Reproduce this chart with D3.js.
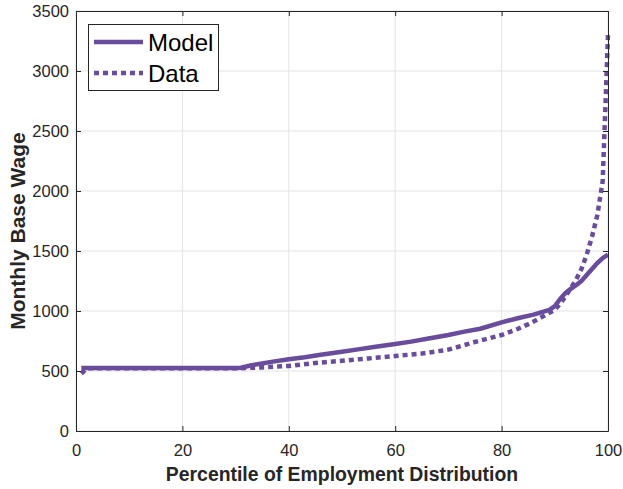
<!DOCTYPE html>
<html>
<head>
<meta charset="utf-8">
<script src="https://cdn.jsdelivr.net/npm/d3@7"></script>
<style>
  body { margin: 0; background: #fff; }
  svg { font-family: "Liberation Sans", Arial, sans-serif; }
</style>
</head>
<body>
<div id="chart"></div>
<script>
// Model curve (percentile, wage)
const modelPct = [1, 5, 10, 20, 30, 31, 33, 35, 37, 40, 43, 46, 50, 53, 56, 60, 63, 66, 70, 73, 76, 80, 83, 86, 89, 90, 91, 92, 93, 94, 95, 96, 97, 98, 99, 100];
const modelWage = [525, 525, 525, 525, 525, 527, 548, 563, 578, 598, 615, 635, 660, 680, 700, 725, 745, 768, 800, 828, 852, 905, 940, 970, 1010, 1040, 1100, 1150, 1185, 1215, 1250, 1300, 1350, 1400, 1440, 1470];

// Data curve (percentile, wage)
const dataPct = [1, 2, 10, 20, 30, 35, 40, 45, 50, 55, 60, 65, 70, 75, 80, 83, 85, 87, 89, 90, 91, 92, 93, 94, 95, 96, 97, 98, 99, 100];
const dataWage = [478, 522, 522, 522, 522, 530, 542, 566, 585, 605, 625, 645, 678, 742, 800, 850, 890, 935, 985, 1010, 1060, 1120, 1190, 1260, 1350, 1470, 1620, 1800, 2080, 3300];

const xTicks = [0, 20, 40, 60, 80, 100];
const yTicks = [0, 500, 1000, 1500, 2000, 2500, 3000, 3500];

const seriesNames = ['Model', 'Data'];
const purple = '#6a4c9c';
const axisColor = '#262626';
const dash = '5,4';

const width = 623, height = 489;
const margin = { left: 76, right: 15, top: 11, bottom: 58 };

const svg = d3.select('#chart').append('svg')
    .attr('width', width)
    .attr('height', height);

const x = d3.scaleLinear().domain([0, 100]).range([margin.left, width - margin.right]);
const y = d3.scaleLinear().domain([0, 3500]).range([height - margin.bottom, margin.top]);

const x0 = x.range()[0], x1 = x.range()[1];
const y0 = y.range()[0], y1 = y.range()[1];

// Grid
const grid = svg.append('g').attr('stroke', '#e3e3e3').attr('stroke-width', 1);
grid.selectAll('.gx').data(xTicks).enter().append('line')
    .attr('x1', d => x(d)).attr('x2', d => x(d))
    .attr('y1', y1).attr('y2', y0);
grid.selectAll('.gy').data(yTicks).enter().append('line')
    .attr('x1', x0).attr('x2', x1)
    .attr('y1', d => y(d)).attr('y2', d => y(d));

// Lines
const line = d3.line().x(d => x(d[0])).y(d => y(d[1]));
const modelPts = modelPct.map((p, i) => [p, modelWage[i]]);
const dataPts = dataPct.map((p, i) => [p, dataWage[i]]);

svg.append('path')
    .datum(dataPts)
    .attr('d', line)
    .attr('fill', 'none')
    .attr('stroke', purple)
    .attr('stroke-width', 4.5)
    .attr('stroke-dasharray', dash);

svg.append('path')
    .datum(modelPts)
    .attr('d', line)
    .attr('fill', 'none')
    .attr('stroke', purple)
    .attr('stroke-width', 4.5)
    .attr('stroke-linejoin', 'round');

// Axes (box with inward ticks)
const tickLen = 5;
const fmt = d3.format('d');
const xAxisB = d3.axisBottom(x).tickValues(xTicks).tickFormat(fmt).tickSizeInner(-tickLen).tickSizeOuter(0).tickPadding(13);
const xAxisT = d3.axisTop(x).tickValues(xTicks).tickSizeInner(-tickLen).tickSizeOuter(0).tickFormat('');
const yAxisL = d3.axisLeft(y).tickValues(yTicks).tickFormat(fmt).tickSizeInner(-tickLen).tickSizeOuter(0).tickPadding(7);
const yAxisR = d3.axisRight(y).tickValues(yTicks).tickSizeInner(-tickLen).tickSizeOuter(0).tickFormat('');

function styleAxis(g) {
    g.selectAll('path').attr('stroke', axisColor).attr('stroke-width', 1);
    g.selectAll('line').attr('stroke', axisColor);
    g.selectAll('text').attr('fill', axisColor).style('font-size', '16.5px');
}

svg.append('g').attr('transform', `translate(0,${y0})`).call(xAxisB).call(styleAxis);
svg.append('g').attr('transform', `translate(0,${y1})`).call(xAxisT).call(styleAxis);
svg.append('g').attr('transform', `translate(${x0},0)`).call(yAxisL).call(styleAxis);
svg.append('g').attr('transform', `translate(${x1},0)`).call(yAxisR).call(styleAxis);

// Axis labels
svg.append('text')
    .attr('x', 342)
    .attr('y', 481)
    .attr('text-anchor', 'middle')
    .attr('font-weight', 'bold')
    .attr('fill', axisColor)
    .style('font-size', '19.4px')
    .text('Percentile of Employment Distribution');

svg.append('text')
    .attr('transform', 'translate(25,231) rotate(-90)')
    .attr('text-anchor', 'middle')
    .attr('font-weight', 'bold')
    .attr('fill', axisColor)
    .style('font-size', '21px')
    .text('Monthly Base Wage');

// Legend
const legend = svg.append('g');
legend.append('rect')
    .attr('x', 88.5).attr('y', 24.5)
    .attr('width', 130).attr('height', 66)
    .attr('fill', '#fff')
    .attr('stroke', axisColor)
    .attr('stroke-width', 1);

seriesNames.forEach((name, i) => {
    const ly = 42 + i * 31;
    legend.append('line')
        .attr('x1', 94).attr('x2', 143)
        .attr('y1', ly).attr('y2', ly)
        .attr('stroke', purple)
        .attr('stroke-width', 4.5)
        .attr('stroke-dasharray', i === 1 ? dash : null);
    legend.append('text')
        .attr('x', 148).attr('y', ly + 9)
        .attr('fill', '#000')
        .style('font-size', '24px')
        .text(name);
});
</script>
</body>
</html>
